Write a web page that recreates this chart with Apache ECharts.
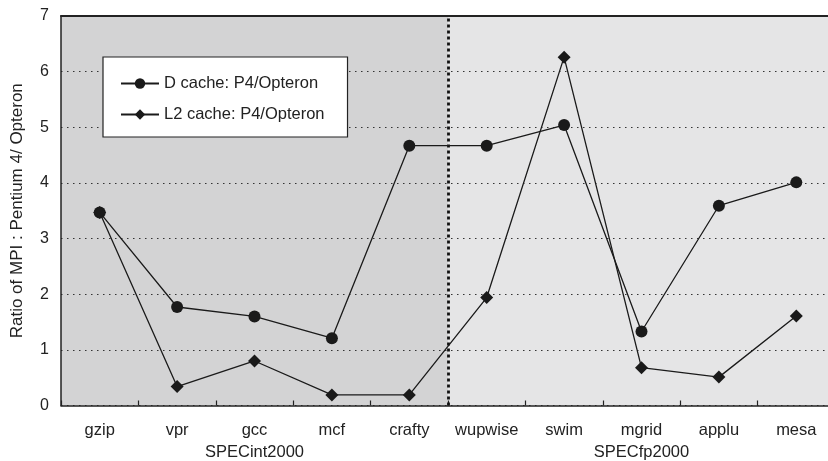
<!DOCTYPE html>
<html><head><meta charset="utf-8">
<script src="https://cdn.jsdelivr.net/npm/echarts@6/dist/echarts.min.js"></script>
<style>html,body{margin:0;padding:0;background:#fff}#c{width:828px;height:461px}</style>
</head><body><div id="c"></div>
<script>
const categories = ['gzip','vpr','gcc','mcf','crafty','wupwise','swim','mgrid','applu','mesa'];
const groups = ['SPECint2000','SPECfp2000'];
const dCache = [3.47,1.77,1.6,1.21,4.67,4.67,5.04,1.33,3.59,4.01];
const l2Cache = [3.47,0.34,0.8,0.19,0.19,1.94,6.26,0.68,0.51,1.61];
const yTicks = [0,1,2,3,4,5,6,7];
const seriesNames = ['D cache: P4/Opteron','L2 cache: P4/Opteron'];

const font = 'Liberation Sans, Arial, sans-serif';
const chart = echarts.init(document.getElementById('c'));
chart.setOption({
  animation:false,
  backgroundColor:'#fff',
  textStyle:{fontFamily:font},
  grid:{left:61,top:16,width:774,bottom:55.5,containLabel:false,outerBoundsMode:'none'},
  legend:{
    left:103, top:57, orient:'vertical',
    backgroundColor:'#fff', borderColor:'#222', borderWidth:1.2,
    padding:[18,23,14,17], itemGap:14, itemWidth:38, itemHeight:13,
    textStyle:{fontSize:16.5,color:'#222',fontFamily:font},
    data:seriesNames
  },
  xAxis:[
    {type:'category', data:categories, position:'bottom',
     axisLine:{lineStyle:{color:'#222',width:1.5}},
     axisTick:{show:true,inside:true,length:5,interval:0,lineStyle:{color:'#222',width:1.2}},
     axisLabel:{fontSize:16.5,color:'#222',margin:16,interval:0,hideOverlap:false,fontFamily:font},
     splitLine:{show:false}, z:3},
    {type:'value', min:0, max:10, position:'top', show:true,
     axisLine:{show:true,onZero:false,lineStyle:{color:'#222',width:2}},
     axisTick:{show:false}, axisLabel:{show:false}, splitLine:{show:false}, z:3},
    {type:'category', data:groups, position:'bottom', offset:30,
     axisLine:{show:false}, axisTick:{show:false},
     axisLabel:{fontSize:16.5,color:'#222',interval:0,fontFamily:font}}
  ],
  yAxis:{type:'value', min:0, max:7, interval:1,
    name:'Ratio of MPI : Pentium 4/ Opteron', nameLocation:'middle', nameGap:35,
    nameTextStyle:{fontSize:17,color:'#222',fontFamily:font},
    axisLine:{show:true,lineStyle:{color:'#222',width:1.5}},
    axisTick:{show:false},
    axisLabel:{fontSize:16,color:'#222',margin:12,fontFamily:font,
      formatter:v=>yTicks.includes(v)?String(v):''},
    splitLine:{show:true,lineStyle:{color:'#333',type:[1.5,4.5],width:1.2}}, z:3},
  series:[
    {type:'line', xAxisIndex:1, data:[], silent:true, z:-1,
     markArea:{silent:true, data:[
       [{xAxis:0,itemStyle:{color:'#d3d3d4'}},{xAxis:5}],
       [{xAxis:5,itemStyle:{color:'#e5e5e6'}},{xAxis:10}]
     ]}},
    {type:'line', xAxisIndex:1, data:[], silent:true, z:4,
     markLine:{silent:true, symbol:'none', label:{show:false},
       lineStyle:{color:'#111',type:[3,3],width:2.8},
       data:[{xAxis:5}]}},
    {name:seriesNames[0], type:'line', data:dCache, symbol:'circle', symbolSize:12,
     itemStyle:{color:'#1a1a1a'}, lineStyle:{color:'#1a1a1a',width:1.3}, z:5},
    {name:seriesNames[1], type:'line', data:l2Cache, symbol:'diamond', symbolSize:13,
     itemStyle:{color:'#1a1a1a'}, lineStyle:{color:'#1a1a1a',width:1.3}, z:5}
  ]
});
</script></body></html>
